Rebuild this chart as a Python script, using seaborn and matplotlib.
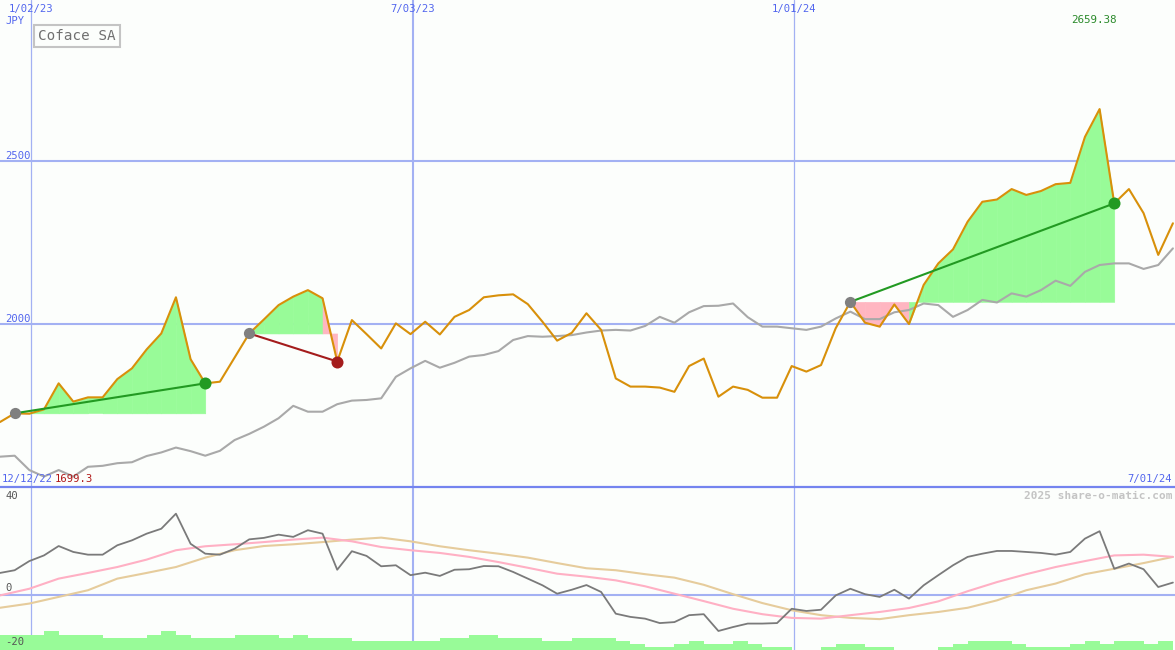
import pandas as pd
import seaborn as sns
import matplotlib.pyplot as plt
import matplotlib.transforms as mtransforms

# weekly closes, JPY
start = '2022-12-18'
price = [1699.3, 1726, 1725, 1738, 1818, 1762, 1775, 1775, 1831, 1864,
         1922, 1971, 2082, 1892, 1818, 1823, 1897, 1971, 2014, 2058,
         2084, 2104, 2079, 1885, 2012, 1969, 1925, 2002, 1969, 2007,
         1968, 2022, 2043, 2082, 2088, 2091, 2061, 2007, 1949, 1973,
         2033, 1982, 1833, 1808, 1808, 1805, 1792, 1871, 1894, 1777,
         1808, 1798, 1774, 1774, 1871, 1854, 1874, 1987, 2068, 2004,
         1992, 2060, 2000, 2120, 2186, 2229, 2314, 2375, 2382, 2414,
         2396, 2408, 2429, 2433, 2574, 2659.38, 2370, 2414, 2340, 2212,
         2309]
avg_price = [1593, 1596, 1552, 1532, 1552, 1532, 1562, 1565, 1573, 1576,
             1595, 1606, 1621, 1610, 1596, 1611, 1644, 1663, 1685, 1711,
             1749, 1731, 1731, 1754, 1765, 1767, 1772, 1838, 1864, 1887,
             1866, 1881, 1900, 1905, 1917, 1951, 1963, 1961, 1963, 1966,
             1974, 1980, 1982, 1980, 1994, 2022, 2004, 2036, 2055, 2056,
             2063, 2021, 1992, 1992, 1987, 1982, 1992, 2017, 2038, 2015,
             2015, 2036, 2043, 2063, 2058, 2022, 2043, 2074, 2066, 2094,
             2084, 2104, 2133, 2117, 2160, 2181, 2186, 2186, 2169, 2181,
             2232]
momentum = [8.8, 9.9, 13.6, 15.9, 19.7, 17.3, 16.2, 16.2, 20.0, 22.0,
            24.7, 26.7, 32.8, 20.6, 16.6, 16.2, 18.6, 22.4, 23.0, 24.3,
            23.4, 26.1, 24.7, 10.1, 17.6, 15.7, 11.5, 11.9, 7.9, 8.9,
            7.6, 10.1, 10.3, 11.6, 11.5, 9.2, 6.5, 3.8, 0.4, 2.0,
            3.9, 1.1, -7.7, -9.0, -9.7, -11.5, -11.1, -8.3, -7.9, -14.7,
            -13.1, -11.7, -11.7, -11.5, -5.7, -6.6, -6.1, -0.3, 2.4, 0.2,
            -0.9, 2.0, -1.6, 3.8, 7.9, 11.9, 15.3, 16.6, 17.7, 17.7,
            17.3, 16.9, 16.2, 17.3, 22.7, 25.7, 10.5, 12.6, 10.3, 3.1,
            4.9]
# smoothed signals, read every second week
signal_fast = [-0.3, 2.4, 6.5, 8.8, 11.2, 14.2, 18.0, 19.6, 20.4, 21.3,
               22.3, 23.1, 21.6, 19.3, 18.0, 16.9, 15.3, 13.2, 10.9, 8.5,
               7.3, 5.8, 3.4, 0.4, -2.6, -5.7, -7.9, -9.4, -9.7, -8.3,
               -7.0, -5.4, -2.7, 1.4, 5.1, 8.3, 11.2, 13.6, 15.9, 16.2,
               15.3]
signal_slow = [-5.3, -3.6, -0.9, 1.8, 6.5, 8.8, 11.2, 15.0, 18.0, 19.7,
               20.4, 21.3, 22.3, 23.1, 21.6, 19.6, 18.0, 16.6, 15.0, 12.8,
               10.7, 9.9, 8.3, 6.9, 4.0, 0.2, -3.4, -6.3, -8.3, -9.4,
               -9.9, -8.3, -7.0, -5.3, -2.3, 1.8, 4.5, 8.3, 10.5, 12.8,
               15.3]
volume = [15, 15, 15, 19, 15, 15, 15, 12, 12, 12, 15, 19, 15, 12, 12, 12,
          15, 15, 15, 12, 15, 12, 12, 12, 9, 9, 9, 9, 9, 9, 12, 12, 15, 15,
          12, 12, 12, 9, 9, 12, 12, 12, 9, 6, 3, 3, 6, 9, 6, 6, 9, 6, 3, 3,
          0, 0, 3, 6, 6, 3, 3, 0, 0, 0, 3, 6, 9, 9, 9, 6, 3, 3, 3, 6, 9, 6,
          9, 9, 6, 9]
# (entry week, exit week)
trades = [(1, 14), (17, 23), (58, 76)]
date_ticks = ['2023-01-02', '2023-07-03', '2024-01-01']
tick_labels = ['1/02/23', '7/03/23', '1/01/24']
price_levels = [2000, 2500]
osc_labels = ['40', '0', '-20']

weeks = pd.date_range(start, periods=len(price), freq='7D')
df = pd.DataFrame({'date': weeks, 'price': price, 'avg': avg_price, 'mom': momentum})
df2 = pd.DataFrame({'date': weeks[::2], 'fast': signal_fast, 'slow': signal_slow})

sns.set_style('white')
plt.rcParams['font.family'] = ['DejaVu Sans Mono']

bg = '#fcfefc'
grid = '#a3b1f3'
blue = '#5266ee'
green_fill = '#98fb98'
pink_fill = '#ffb6c1'

fig = plt.figure(figsize=(11.75, 6.5), dpi=100, facecolor=bg)
split = 487 / 650
ax = fig.add_axes([0, 1 - split, 1, split])
ax2 = fig.add_axes([0, 0, 1, 1 - split])
xlim = (pd.Timestamp('2022-12-18'), pd.Timestamp('2024-07-01'))

# --- price panel ---
for d, lw in zip(date_ticks, [0.9, 1.5, 0.9]):
    ax.axvline(pd.Timestamp(d), color=grid, lw=lw, zorder=0)
    ax2.axvline(pd.Timestamp(d), color=grid, lw=lw, zorder=0)
for lv in price_levels:
    ax.axhline(lv, color=grid, lw=1.5, zorder=0)

for a, b in trades:
    base = price[a]
    for k in range(a + 1, b + 1):
        col = green_fill if price[k] >= base else pink_fill
        ax.fill_between(weeks[k - 1:k + 1], price[k - 1:k + 1], base,
                        color=col, lw=0.4, edgecolor=col, zorder=1)

sns.lineplot(data=df, x='date', y='avg', color='#a9a9a9', lw=1.5, ax=ax, zorder=2)
sns.lineplot(data=df, x='date', y='price', color='#d8900a', lw=1.5, ax=ax, zorder=3)

for a, b in trades:
    col = '#229a22' if price[b] > price[a] else '#a41c1c'
    ax.plot([weeks[a], weeks[b]], [price[a], price[b]], color=col, lw=1.5, zorder=4)
    ax.scatter([weeks[a]], [price[a]], s=65, color='#808080', zorder=5, lw=0)
    ax.scatter([weeks[b]], [price[b]], s=75, color=col, zorder=5, lw=0)

ax.set_xlim(xlim)
ax.set_ylim(1500, 2994)

# --- oscillator panel ---
ax2.axhline(0, color=grid, lw=1.5, zorder=0)
sns.lineplot(data=df2, x='date', y='slow', color='#e6cc9c', lw=1.5, ax=ax2, zorder=2)
sns.lineplot(data=df2, x='date', y='fast', color='#ffb0c4', lw=1.5, ax=ax2, zorder=2)
sns.lineplot(data=df, x='date', y='mom', color='#7a7a7a', lw=1.3, ax=ax2, zorder=3)
ax2.set_xlim(xlim)
ax2.set_ylim(-22.4, 43.6)

ax3 = ax2.twinx()
ax3.bar(weeks[:-1], volume, width=7, align='edge', color=green_fill, lw=0)
ax3.set_ylim(0, 163)
ax3.set_xlim(xlim)

for a_ in (ax, ax2, ax3):
    a_.set_facecolor(bg)
    a_.set_xticks([])
    a_.set_yticks([])
    a_.set_xlabel('')
    a_.set_ylabel('')
    for s in a_.spines.values():
        s.set_visible(False)
ax3.patch.set_visible(False)
ax2.spines['top'].set_visible(True)
ax2.spines['top'].set_color('#7484ef')
ax2.spines['top'].set_linewidth(1.6)

# --- texts ---
fs = 7.6
tr_top = mtransforms.blended_transform_factory(ax.transData, ax.transAxes)
for d, lab in zip(date_ticks, tick_labels):
    ax.text(pd.Timestamp(d), 1 - 9 / 487, lab, transform=tr_top, ha='center',
            va='center', fontsize=fs, color=blue)
tr_lv = mtransforms.blended_transform_factory(ax.transAxes, ax.transData)
for lv in price_levels:
    ax.text(5 / 1175, lv, str(lv), transform=tr_lv, ha='left', va='bottom',
            fontsize=fs, color=blue)


def px(x, y):
    return x / 1175, 1 - y / 650


for lab, yy in zip(osc_labels, [496, 588, 642]):
    fig.text(*px(5, yy), lab, ha='left', va='center', fontsize=fs, color='#555555',
             zorder=10)

fig.text(*px(5, 21), 'JPY', ha='left', va='center', fontsize=fs, color=blue)
fig.text(*px(38, 36), 'Coface SA', ha='left', va='center', fontsize=10.3, color='#707070',
         bbox=dict(boxstyle='square,pad=0.3', facecolor=bg, edgecolor='#c4c4c4', lw=1.5))
fig.text(*px(1117, 20), f'{max(price):.2f}', ha='right', va='center', fontsize=7.8,
         color='#2a8a2a')
fig.text(*px(2, 479), '12/12/22', ha='left', va='center', fontsize=fs, color=blue)
fig.text(*px(55, 479), f'{min(price):.1f}', ha='left', va='center', fontsize=fs,
         color='#b01818')
fig.text(*px(1172, 479), '7/01/24', ha='right', va='center', fontsize=fs, color=blue)
fig.text(*px(1172, 496), '2025 share-o-matic.com', ha='right', va='center', fontsize=8,
         color='#c4c4c4', fontweight='bold')

fig.savefig('out.png', dpi=100, facecolor=bg)
